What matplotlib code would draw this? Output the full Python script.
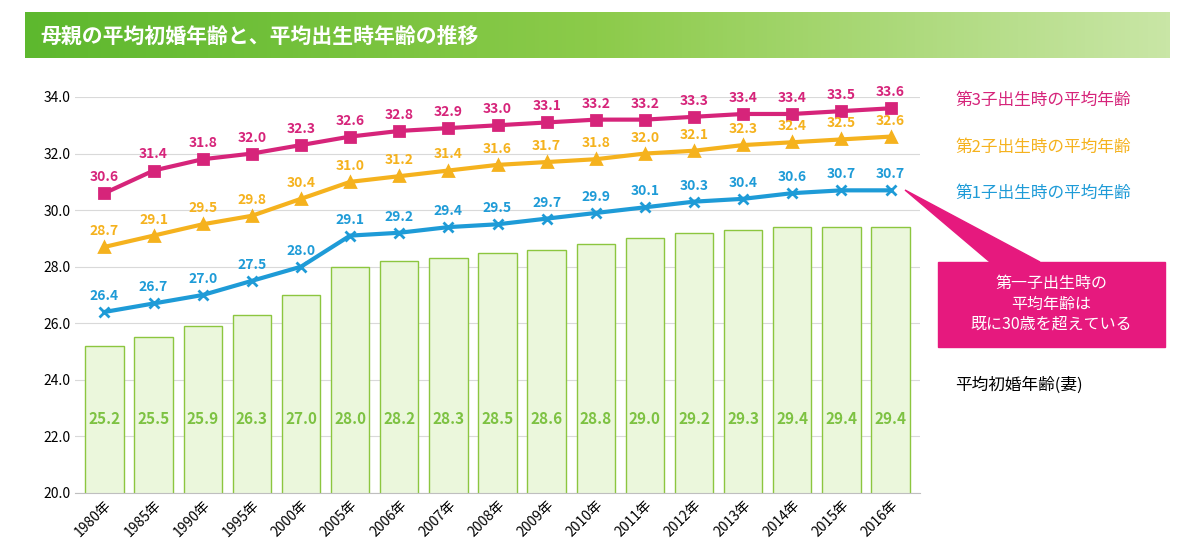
import matplotlib
matplotlib.use("Agg")
import matplotlib.pyplot as plt
from matplotlib.patches import Rectangle, Polygon
from matplotlib.colors import LinearSegmentedColormap
import numpy as np

plt.rcParams['font.family'] = ['Noto Sans CJK JP', 'DejaVu Sans']

years = ["1980年","1985年","1990年","1995年","2000年","2005年","2006年","2007年","2008年","2009年",
         "2010年","2011年","2012年","2013年","2014年","2015年","2016年"]
marriage = [25.2,25.5,25.9,26.3,27.0,28.0,28.2,28.3,28.5,28.6,28.8,29.0,29.2,29.3,29.4,29.4,29.4]
first = [26.4,26.7,27.0,27.5,28.0,29.1,29.2,29.4,29.5,29.7,29.9,30.1,30.3,30.4,30.6,30.7,30.7]
second = [28.7,29.1,29.5,29.8,30.4,31.0,31.2,31.4,31.6,31.7,31.8,32.0,32.1,32.3,32.4,32.5,32.6]
third = [30.6,31.4,31.8,32.0,32.3,32.6,32.8,32.9,33.0,33.1,33.2,33.2,33.3,33.4,33.4,33.5,33.6]

W, H = 1200, 559
fig = plt.figure(figsize=(12, 5.59), dpi=100)

grad = np.linspace(0, 1, 256).reshape(1, -1)
bax = fig.add_axes([25/W, 1-58/H, 1145/W, 46/H])
cm = LinearSegmentedColormap.from_list("g", ["#5DB82E", "#8CCB4A", "#C9E6A6"])
bax.imshow(grad, aspect='auto', cmap=cm, extent=[0, 1, 0, 1])
bax.axis('off')
fig.text(40/W, 1-36/H, "母親の平均初婚年齢と、平均出生時年齢の推移", color='white',
         fontsize=15, fontweight='bold', va='center')

ax = fig.add_axes([75/W, 1-493/H, 845/W, 396/H])
x = np.arange(len(years))
ax.bar(x, marriage, width=0.78, color='#EBF7DC', edgecolor='#8CC63F', linewidth=1, zorder=2)
ax.set_ylim(20, 34)
ax.set_xlim(-0.6, len(years)-0.4)
ax.set_yticks(np.arange(20, 34.1, 2))
ax.set_yticklabels([f"{v:.1f}" for v in np.arange(20, 34.1, 2)], fontsize=10)
ax.set_xticks(x)
ax.set_xticklabels(years, rotation=45, ha='right', rotation_mode='anchor', fontsize=10)
ax.grid(axis='y', color='#D9D9D9', linewidth=0.8, zorder=0)
ax.set_axisbelow(True)
for s in ['top', 'right', 'left']:
    ax.spines[s].set_visible(False)
ax.spines['bottom'].set_color('#BFBFBF')
ax.tick_params(length=0)

for i, v in enumerate(marriage):
    ax.text(i, 22.6, f"{v:.1f}", ha='center', va='center', color='#7DC242', fontsize=11, fontweight='bold', zorder=5)

series = [(third, '#D6247A', 's', 7), (second, '#F5B21E', '^', 7), (first, '#1E9BD7', 'x', 7)]
for vals, c, m, ms in series:
    ax.plot(x, vals, color=c, lw=3, marker=m, ms=ms, mew=2, zorder=4)
    for i, v in enumerate(vals):
        ax.text(i, v+0.32, f"{v:.1f}", ha='center', va='bottom', color=c, fontsize=10, fontweight='bold', zorder=5)

fig.text(955/W, 1-100/H, "第3子出生時の平均年齢", color='#D6247A', fontsize=12, va='center')
fig.text(955/W, 1-147/H, "第2子出生時の平均年齢", color='#F5B21E', fontsize=12, va='center')
fig.text(955/W, 1-193/H, "第1子出生時の平均年齢", color='#1E9BD7', fontsize=12, va='center')
fig.text(955/W, 1-385/H, "平均初婚年齢(妻)", color='black', fontsize=12, va='center')

fig.patches.append(Polygon([[905/W, 1-190/H], [990/W, 1-262/H], [1040/W, 1-262/H]],
                           closed=True, transform=fig.transFigure, color='#E6197E'))
fig.patches.append(Rectangle((938/W, 1-347/H), 227/W, 85/H, transform=fig.transFigure,
                             color='#E6197E'))
fig.text(1051/W, 1-304/H, "第一子出生時の\n平均年齢は\n既に30歳を超えている", color='white',
         fontsize=11.5, ha='center', va='center', linespacing=1.25)

fig.savefig("out.png", dpi=100)
